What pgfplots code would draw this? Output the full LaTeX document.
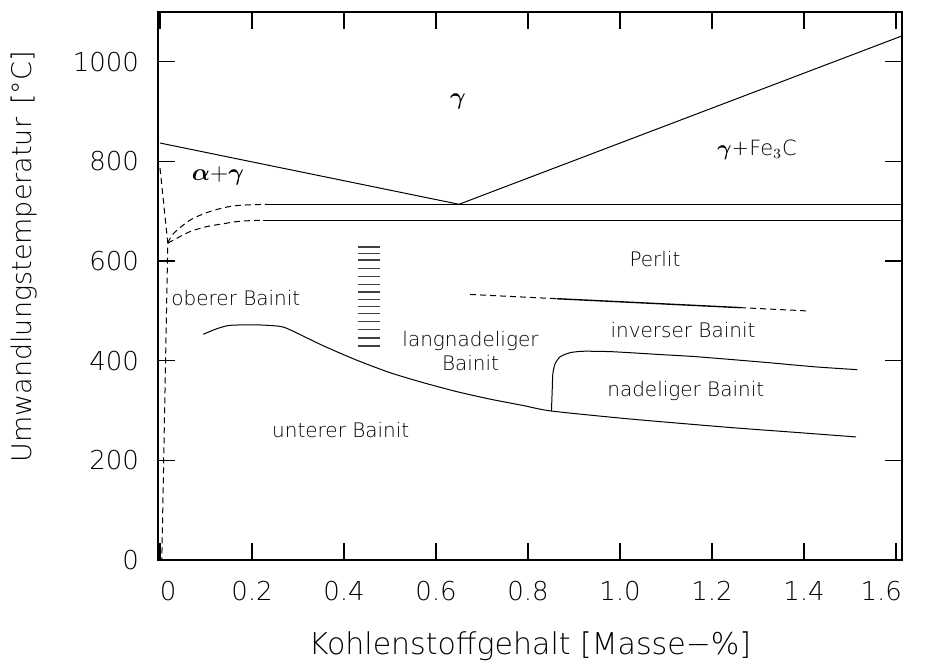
\documentclass[border=0pt]{standalone}
\usepackage{amsmath}
\usepackage{fontspec}
\IfFontExistsTF{DejaVu Sans ExtraLight}{\setmainfont{DejaVu Sans ExtraLight}}{\setmainfont{DejaVu Sans}}
\usepackage{pgfplots}
\pgfplotsset{compat=1.18}
\begin{document}
\begin{tikzpicture}
\begin{axis}[
  width=372pt, height=274pt, scale only axis,
  xmin=-0.0043, xmax=1.613, ymin=0, ymax=1100,
  axis line style={line width=0.65pt},
  xtick={0,0.2,0.4,0.6,0.8,1.0,1.2,1.4,1.6},
  xticklabels={\makebox[0pt][l]{0},0.2,0.4,0.6,0.8,1.0,1.2,1.4,\makebox[0pt][r]{1.6\kern-3pt}},
  ytick={0,200,400,600,800,1000},
  yticklabels={0,200,400,600,800,1000},
  xtick align=inside, ytick align=inside,
  xtick pos=both, ytick pos=both,
  major tick length=8.5pt,
  major tick style={draw=black, line width=0.6pt},
  ticklabel style={font=\fontsize{13}{15}\selectfont},
  xticklabel style={yshift=-7pt},
  yticklabel style={xshift=-6pt},
  xlabel={Kohlenstoffgehalt [Masse−\%]},
  ylabel={Umwandlungstemperatur \,[°C]},
  xlabel style={font=\fontsize{15}{18}\selectfont, at={(axis description cs:0.5,-0.158)}, anchor=center},
  ylabel style={font=\fontsize{13.5}{15}\selectfont, at={(axis description cs:-0.180,0.553)}, anchor=center},
  clip=false,
  cycle list={{black, line width=0.5pt, mark=none}},
  unbounded coords=jump,
]
% A3 / Acm
\addplot[black, line width=0.5pt, mark=none] coordinates {(0,837) (0.65,714) (1.613,1052)};
% horizontal lines
\addplot[black, line width=0.5pt, mark=none] coordinates {(0.235,714) (1.613,714)};
\addplot[black, line width=0.5pt, mark=none] coordinates {(0.224,682) (1.613,682)};
% dashed transition curves
\addplot[black, line width=0.5pt, mark=none, dash pattern=on 3pt off 2pt, smooth] coordinates {(0.017,636) (0.029,655) (0.065,682) (0.101,697) (0.138,707) (0.174,712) (0.235,714)};
\addplot[black, line width=0.5pt, mark=none, dash pattern=on 3pt off 2pt, smooth] coordinates {(0.017,636) (0.029,642) (0.065,659) (0.101,669) (0.138,675) (0.174,680) (0.224,682)};
\addplot[black, line width=0.5pt, mark=none, dash pattern=on 3pt off 2pt] coordinates {(0,787) (0.017,636) (0.004,0)};
% upper/lower bainite boundary
\addplot[black, line width=0.5pt, mark=none, smooth, tension=0.4] coordinates {(0.094,453) (0.123,464) (0.152,471) (0.210,472) (0.261,469) (0.283,462) (0.355,430) (0.428,401) (0.500,376) (0.572,356) (0.645,338) (0.717,323) (0.790,310) (0.851,299) (1.022,283) (1.239,266) (1.384,256) (1.513,247)};
% nadeliger Bainit boundary
\addplot[black, line width=0.5pt, mark=none, smooth, tension=0.4] coordinates {(0.851,299) (0.853,350) (0.854,374) (0.859,394) (0.870,408) (0.891,416) (0.920,419) (0.985,418) (1.094,412) (1.167,408) (1.312,397) (1.420,388) (1.516,382)};
% Perlit / inverser Bainit boundary
\addplot[black, line width=0.5pt, mark=none, dash pattern=on 3pt off 2pt] coordinates {(0.674,533) (0.862,524.5)};
\addplot[black, line width=0.7pt, mark=none] coordinates {(0.862,524.5) (1.261,506.6)};
\addplot[black, line width=0.5pt, mark=none, dash pattern=on 3pt off 2pt] coordinates {(1.261,506.6) (1.406,500)};
% hatching
\addplot[black!75, line width=0.8pt, mark=none] coordinates {
(0.431,628.4) (0.478,628.4) (0.45,nan)
(0.431,615.0) (0.478,615.0) (0.45,nan)
(0.431,601.6) (0.478,601.6) (0.45,nan)
(0.431,584.9) (0.478,584.9) (0.45,nan)
(0.431,569.4) (0.478,569.4) (0.45,nan)
(0.431,553.3) (0.478,553.3) (0.45,nan)
(0.431,537.8) (0.478,537.8) (0.45,nan)
(0.431,522.5) (0.478,522.5) (0.45,nan)
(0.431,509.1) (0.478,509.1) (0.45,nan)
(0.431,494.4) (0.478,494.4) (0.45,nan)
(0.431,478.9) (0.478,478.9) (0.45,nan)
(0.431,462.8) (0.478,462.8) (0.45,nan)
(0.431,446.0) (0.478,446.0) (0.45,nan)
(0.431,429.1) (0.478,429.1)};
% labels
\node[font=\fontsize{12}{14}\selectfont] at (axis cs:0.648,920) {$\boldsymbol{\gamma}$};
\node[font=\fontsize{12}{14}\selectfont] at (axis cs:0.126,771) {$\boldsymbol{\alpha}{+}\boldsymbol{\gamma}$};
\node[font=\fontsize{10.5}{12}\selectfont] at (axis cs:1.298,823) {$\boldsymbol{\gamma}$+Fe$_3$C};
\node[font=\fontsize{10}{12}\selectfont] at (axis cs:1.076,604) {Perlit};
\node[font=\fontsize{10}{12}\selectfont] at (axis cs:0.165,525) {oberer Bainit};
\node[font=\fontsize{10}{12}\selectfont, align=center] at (axis cs:0.675,420) {langnadeliger\\Bainit};
\node[font=\fontsize{10}{12}\selectfont] at (axis cs:1.137,461) {inverser Bainit};
\node[font=\fontsize{10}{12}\selectfont] at (axis cs:1.143,340) {nadeliger Bainit};
\node[font=\fontsize{10}{12}\selectfont] at (axis cs:0.393,260) {unterer Bainit};
\end{axis}
\pgfresetboundingbox
\path ([xshift=-79pt,yshift=-54pt]current axis.south west) rectangle ([xshift=12.5pt,yshift=6pt]current axis.north east);
\end{tikzpicture}
\end{document}
